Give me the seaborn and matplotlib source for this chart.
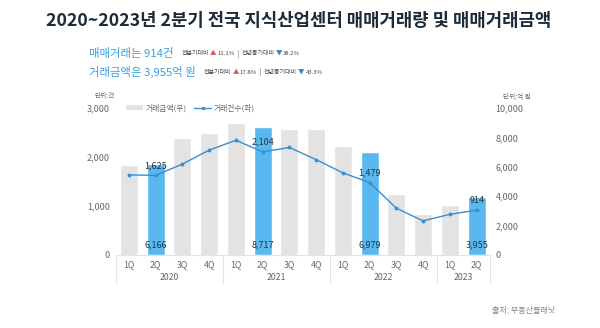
import numpy as np
import pandas as pd
import matplotlib
matplotlib.use("Agg")
import matplotlib.pyplot as plt
import seaborn as sns
from matplotlib.patches import Patch
from matplotlib.lines import Line2D
import matplotlib.transforms as mtransforms

# ---------------- data ----------------
quarters = ['1Q', '2Q', '3Q', '4Q', '1Q', '2Q', '3Q', '4Q', '1Q', '2Q', '3Q', '4Q', '1Q', '2Q']
years = ['2020', '2021', '2022', '2023']
year_spans = [4, 4, 4, 2]
amount = [6120, 6166, 7980, 8280, 8960, 8717, 8560, 8560, 7390, 6979, 4120, 2770, 3400, 3955]   # 억 원 (right)
count = [1634, 1625, 1856, 2140, 2342, 2104, 2195, 1946, 1676, 1479, 953, 696, 831, 914]        # 건 (left)
highlight = [False, True, False, False, False, True, False, False, False, True, False, False, False, True]
left_ticks = [0, 1000, 2000, 3000]
right_ticks = [0, 2000, 4000, 6000, 8000, 10000]

title = "2020~2023년 2분기 전국 지식산업센터 매매거래량 및 매매거래금액"
line1 = "매매거래는 914건"
line2 = "거래금액은 3,955억 원"
stats1 = ["전분기대비", "▲", "11.1%", "|", "전년동기대비", "▼", "38.2%"]
stats2 = ["전분기대비", "▲", "17.8%", "|", "전년동기대비", "▼", "43.3%"]

# ---------------- style ----------------
sns.set_theme(style="white")
plt.rcParams['font.family'] = ['Noto Sans CJK KR', 'DejaVu Sans']

GRAY = '#e3e3e3'
BLUE = '#5ab8f0'
LINE = '#3a8fd0'
TXT = '#666666'
DARK = '#243447'

fig = plt.figure(figsize=(6.0, 3.28), dpi=100)
W, H = 600, 328
ax_l, ax_r = 115.6 / W, 490 / W
ax_t, ax_b = 1 - 108 / H, 1 - 255 / H
ax = fig.add_axes([ax_l, ax_b, ax_r - ax_l, ax_t - ax_b])   # bars (right scale)
ax2 = ax.twinx()                                            # line (left scale)

labels = [f"{q}_{i}" for i, q in enumerate(quarters)]
df = pd.DataFrame({'label': labels, 'amount': amount, 'count': count,
                   'pos': np.arange(len(labels))})
colors = [BLUE if h else GRAY for h in highlight]

sns.barplot(data=df, x='label', y='amount', hue='label', palette=colors,
            legend=False, width=0.67, ax=ax, saturation=1)
sns.lineplot(data=df, x='pos', y='count', ax=ax2, color=LINE, lw=1.0,
             marker='o', markersize=2.8, markeredgewidth=0)

ax.set_xlim(-0.5, len(labels) - 0.5)
ax.set_ylim(0, 10000)
ax2.set_ylim(0, 3000)

# axes ticks: bars on right, line on left
ax.yaxis.tick_right()
ax2.yaxis.tick_left()
ax.set_yticks(right_ticks)
ax.set_yticklabels([f"{v:,}" for v in right_ticks])
ax2.set_yticks(left_ticks)
ax2.set_yticklabels([f"{v:,}" for v in left_ticks])
ax.tick_params(axis='y', length=0, pad=4, labelsize=6.5, labelcolor=TXT)
ax2.tick_params(axis='y', length=0, pad=4, labelsize=6.5, labelcolor=TXT)
ax.set_xticks([])
ax2.set_xticks([])
for a in (ax, ax2):
    a.set_xlabel('')
    a.set_ylabel('')
    for s in a.spines.values():
        s.set_visible(False)
ax.grid(False)
ax2.grid(False)

# value labels
for i, (h, c, m) in enumerate(zip(highlight, count, amount)):
    if h:
        ax2.annotate(f"{c:,}", (i, c), xytext=(0, 7), textcoords='offset points',
                     ha='center', va='center', fontsize=6.5, color=DARK)
        ax.annotate(f"{m:,}", (i, 0), xytext=(0, 7), textcoords='offset points',
                    ha='center', va='center', fontsize=6.5, color=DARK)

# x-axis table
trans = mtransforms.blended_transform_factory(ax.transData, ax.transAxes)
SEP = '#e2e2e2'
ax.plot([-0.5, len(labels) - 0.5], [0, 0], transform=trans, color=SEP, lw=0.8, clip_on=False)
for i, q in enumerate(quarters):
    ax.text(i, -0.068, q, transform=trans, ha='center', va='center', fontsize=6.3, color=TXT)
start = -0.5
bounds = [start]
for y, span in zip(years, year_spans):
    ax.text(start + span / 2, -0.155, y, transform=trans, ha='center', va='center',
            fontsize=6.3, color=TXT)
    start += span
    bounds.append(start)
for b in bounds:
    ax.plot([b, b], [0, -0.19], transform=trans, color=SEP, lw=0.8, clip_on=False)

# unit labels
fig.text(94 / W, 1 - 96 / H, "단위:건", fontsize=4.8, color=TXT, ha='left', va='center')
fig.text(503 / W, 1 - 97 / H, "단위:억 원", fontsize=4.8, color=TXT, ha='left', va='center')

# legend
handles = [Patch(facecolor=GRAY, edgecolor='none'),
           Line2D([0], [0], color=LINE, lw=1.0, marker='o', markersize=2.5, markeredgewidth=0)]
fig.legend(handles, ["거래금액(우)", "거래건수(좌)"], loc='center left',
           bbox_to_anchor=(126 / W, 1 - 108 / H), ncol=2, frameon=False,
           fontsize=5.6, labelcolor=TXT, handlelength=2.2, handleheight=0.6,
           columnspacing=1.0, handletextpad=0.3, borderaxespad=0, borderpad=0)

# title
fig.text(0.4975, 1 - 21 / H, title, ha='center', va='center', fontsize=12.8,
         fontweight='bold', color='#1c2b3a')

# headline lines
LBLUE = '#3a9fe0'
fig.canvas.draw()
renderer = fig.canvas.get_renderer()


def seq_text(x_px, y_px, parts, sizes, colors_, gaps):
    x = x_px
    for p, s, c, g in zip(parts, sizes, colors_, gaps):
        t = fig.text(x / W, 1 - y_px / H, p, fontsize=s, color=c, ha='left', va='center')
        bb = t.get_window_extent(renderer=renderer)
        x += bb.width + g


def headline(y_px, big, stats):
    t = fig.text(89 / W, 1 - y_px / H, big, fontsize=8.2, color=LBLUE, ha='left',
                 va='center', fontweight='medium')
    bb = t.get_window_extent(renderer=renderer)
    x0 = 89 + bb.width + 8
    cols = ['#444444', '#e05a5a', '#444444', '#444444', '#444444', '#2b86c8', '#444444']
    sizes = [4.3, 4.7, 4.3, 4.7, 4.3, 4.7, 4.3]
    gaps = [1.2, 1.0, 2.5, 2.5, 1.2, 1.0, 0]
    seq_text(x0, y_px + 0.5, stats, sizes, cols, gaps)


headline(53, line1, stats1)
headline(72, line2, stats2)

# source
fig.text(555 / W, 1 - 310 / H, "출처: 부동산플래닛", fontsize=5.8, color='#888888',
         ha='right', va='center')

fig.savefig("out.png", dpi=100)
